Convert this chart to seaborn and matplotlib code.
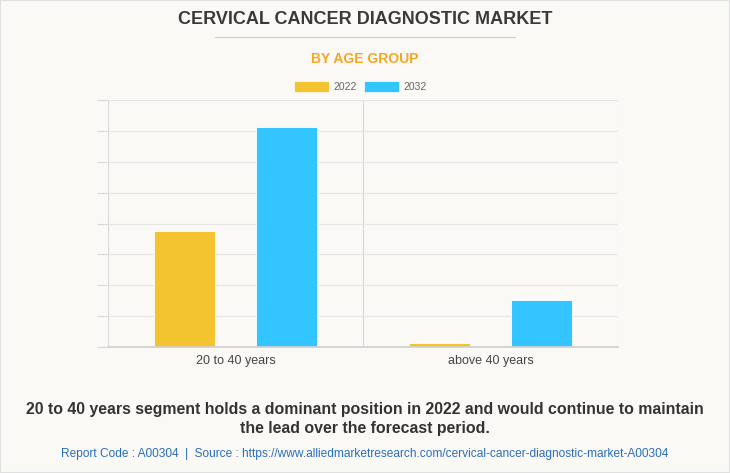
import pandas as pd
import numpy as np
import matplotlib.pyplot as plt
import seaborn as sns
from matplotlib.patches import Rectangle
from matplotlib.lines import Line2D

# data (grid step = 100)
age_groups = ['20 to 40 years', 'above 40 years']
years = ['2022', '2032']
values_2022 = [375, 13]
values_2032 = [712, 152]

df = pd.DataFrame({
    'age_group': age_groups * 2,
    'year': [years[0]] * 2 + [years[1]] * 2,
    'value': values_2022 + values_2032,
})

bg = '#FAF9F5'
colors = {'2022': '#F4C430', '2032': '#33C5FF'}

sns.set_theme(style='white')
plt.rcParams['font.family'] = ['Liberation Sans', 'DejaVu Sans']

fig = plt.figure(figsize=(7.3, 4.73), dpi=100, facecolor=bg)
ax = fig.add_axes([108 / 730, 1 - 347 / 473, 510 / 730, 247 / 473])
ax.set_facecolor(bg)

sns.barplot(data=df, x='age_group', y='value', hue='year', palette=colors,
            width=0.8, gap=0.4, ax=ax, legend=False, saturation=1,
            edgecolor='white', linewidth=0.6)

ax.set_xlim(-0.5, 1.5)
ax.set_ylim(0, 800)
ax.set_yticks(np.arange(0, 801, 100))
ax.set_yticklabels([])
ax.set_xticks([0, 1])
ax.set_xticks([-0.5, 0.5, 1.5], minor=True)
ax.set_xticklabels(age_groups, fontsize=9, color='#444444')
ax.tick_params(axis='x', which='major', length=0, pad=6)
ax.tick_params(axis='x', which='minor', length=8, color='#d8d8d8', width=0.8)
ax.tick_params(axis='y', length=8, color='#d8d8d8', width=0.8, left=True)
ax.grid(axis='y', color='#e6e6e6', linewidth=0.9)
ax.grid(axis='x', which='minor', color='#d8d8d8', linewidth=0.8)
ax.set_axisbelow(True)
ax.set_xlabel('')
ax.set_ylabel('')
for s in ['top', 'right', 'left']:
    ax.spines[s].set_visible(False)
ax.spines['bottom'].set_color('#d0d0d0')

# titles
fig.text(0.5, 1 - 20 / 473, 'CERVICAL CANCER DIAGNOSTIC MARKET', ha='center', va='center',
         fontsize=13, fontweight='bold', color='#3a3a3a')
fig.add_artist(Line2D([215 / 730, 515 / 730], [1 - 37 / 473] * 2, color='#cccccc', lw=0.8))
fig.text(0.5, 1 - 59 / 473, 'BY AGE GROUP', ha='center', va='center',
         fontsize=10, fontweight='bold', color='#F5A623')

# legend
for x0, yr in [(294, '2022'), (364, '2032')]:
    fig.add_artist(Rectangle((x0 / 730, 1 - 92 / 473), 35 / 730, 11 / 473,
                             facecolor=colors[yr], edgecolor='white', lw=0.5))
    fig.text((x0 + 39) / 730, 1 - 86.5 / 473, yr, ha='left', va='center',
             fontsize=7.5, color='#666666')

# caption
fig.text(0.5, 1 - 419 / 473,
         '20 to 40 years segment holds a dominant position in 2022 and would continue to maintain\nthe lead over the forecast period.',
         ha='center', va='center', fontsize=11.4, fontweight='bold', color='#333333',
         linespacing=1.4)
fig.text(0.5, 1 - 454 / 473,
         'Report Code : A00304  |  Source : https://www.alliedmarketresearch.com/cervical-cancer-diagnostic-market-A00304',
         ha='center', va='center', fontsize=8.6, color='#2a6ebb')

fig.add_artist(Rectangle((0, 0), 1, 1, fill=False, edgecolor='#e0e0e0', lw=1.5,
                         transform=fig.transFigure))

fig.savefig('out.png', dpi=100, facecolor=bg)
